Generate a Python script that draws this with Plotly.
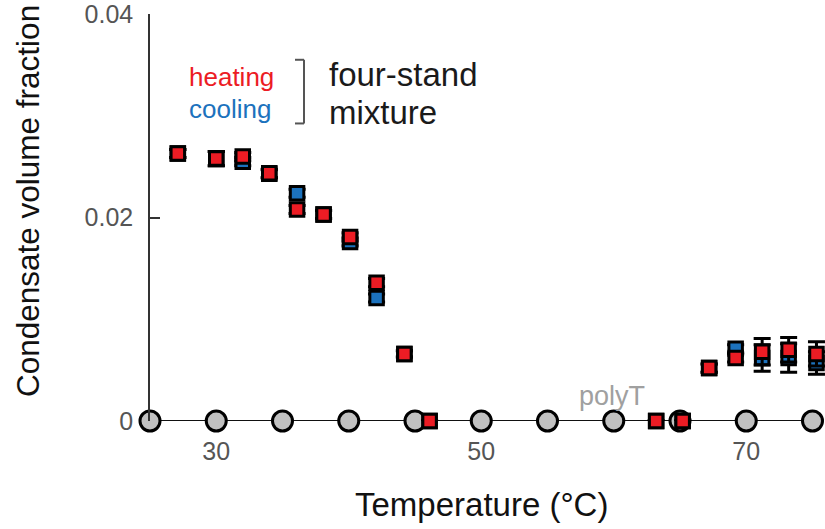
import plotly.graph_objects as go

# ---- data ----
heat_T = [27.1, 30.0, 32.0, 34.0, 36.1, 38.1, 40.1, 42.1, 44.2, 46.1, 63.2, 65.2, 67.2, 69.2, 71.2, 73.2, 75.3]
heat_V = [0.0263, 0.0258, 0.0260, 0.02435, 0.0208, 0.0203, 0.0181, 0.0136, 0.0066, 0.0, 0.0, 0.0, 0.0052, 0.0062, 0.0068, 0.0070, 0.0066]
heat_E = [0.0004, 0.0007, 0.0004, 0.0004, 0.0004, 0.0004, 0.0004, 0.0004, 0.0003, 0.0, 0.0, 0.0, 0.0004, 0.0004, 0.0013, 0.0012, 0.0012]

cool_T = [27.1, 30.0, 32.0, 34.0, 36.1, 38.1, 40.1, 42.1, 44.2, 46.1, 63.2, 65.2, 67.2, 69.2, 71.2, 73.2, 75.3]
cool_V = [0.0263, 0.0258, 0.0255, 0.0243, 0.0224, 0.0203, 0.0176, 0.0121, 0.0066, 0.0, 0.0, 0.0, 0.0052, 0.0071, 0.0062, 0.0062, 0.0057]
cool_E = [0.0004, 0.0007, 0.0004, 0.0004, 0.0004, 0.0004, 0.0004, 0.0004, 0.0003, 0.0, 0.0, 0.0, 0.0004, 0.0004, 0.0013, 0.0014, 0.0011]

poly_T = [25, 30, 35, 40, 45, 50, 55, 60, 65, 70, 75]
poly_V = [0, 0, 0, 0, 0, 0, 0, 0, 0, 0, 0]

x_ticks = [30, 50, 70]
y_ticks = [0, 0.02, 0.04]
y_ticktext = ["0", "0.02", "0.04"]

RED = "#ec1c24"
BLUE = "#1c72bd"
FONT = "Liberation Sans, Arial, Helvetica, sans-serif"

# plot area in pixels
L, T, W, H = 150, 12, 675, 409
YTOP = 0.04 * 1.0005


def px(xp):
    return (xp - L) / W


def py(yp):
    return (T + H - yp) / H


fig = go.Figure()

fig.add_trace(go.Scatter(
    x=poly_T, y=poly_V, mode="lines+markers",
    line=dict(color="#111111", width=2),
    marker=dict(symbol="circle", size=20, color="#c1c1c1",
                line=dict(color="#000000", width=3)),
    cliponaxis=False, showlegend=False, hoverinfo="skip"))

for xs, ys, es, col in [(cool_T, cool_V, cool_E, BLUE), (heat_T, heat_V, heat_E, RED)]:
    fig.add_trace(go.Scatter(
        x=xs, y=ys, mode="markers",
        error_y=dict(type="data", array=es, visible=True,
                     color="#000000", thickness=3, width=8.5),
        marker=dict(symbol="square", size=13.5, color=col,
                    line=dict(color="#000000", width=3)),
        cliponaxis=False, showlegend=False))

annotations = [
    dict(text="Condensate volume fraction", x=px(28), y=py(200), textangle=-90,
         font=dict(size=31.5, color="#111111", family=FONT)),
    dict(text="Temperature (°C)", x=px(481), y=py(505),
         font=dict(size=33, color="#111111", family=FONT)),
    dict(text="polyT", x=px(577), y=py(396), xanchor="left",
         font=dict(size=27, color="#a0a0a0", family=FONT)),
    dict(text="heating", x=px(187), y=py(75), xanchor="left",
         font=dict(size=26, color=RED, family=FONT)),
    dict(text="cooling", x=px(187), y=py(107), xanchor="left",
         font=dict(size=26, color=BLUE, family=FONT)),
    dict(text="four-stand", x=px(327), y=py(73), xanchor="left",
         font=dict(size=33, color="#1a1a1a", family=FONT)),
    dict(text="mixture", x=px(327), y=py(111), xanchor="left",
         font=dict(size=33, color="#1a1a1a", family=FONT)),
]
for a in annotations:
    a.update(xref="paper", yref="paper", showarrow=False)
    a.setdefault("xanchor", "center")
    a.setdefault("yanchor", "middle")

bracket_col = "#555555"
shapes = [
    dict(type="line", x0=px(304), x1=px(304), y0=py(58), y1=py(122)),
    dict(type="line", x0=px(295), x1=px(304), y0=py(58), y1=py(58)),
    dict(type="line", x0=px(295), x1=px(304), y0=py(122), y1=py(122)),
]
for s in shapes:
    s.update(xref="paper", yref="paper", line=dict(color=bracket_col, width=2))

fig.update_layout(
    width=825, height=529,
    margin=dict(l=L, r=825 - L - W, t=T, b=529 - T - H, pad=0),
    paper_bgcolor="white", plot_bgcolor="white",
    font=dict(family=FONT),
    annotations=annotations, shapes=shapes,
    xaxis=dict(range=[25, 25 + W / 13.25], tickvals=x_ticks,
               ticks="", showline=False, showgrid=False, zeroline=False,
               tickfont=dict(size=25, color="#555555"),
               ticklabelstandoff=13),
    yaxis=dict(range=[0, YTOP], tickvals=y_ticks, ticktext=y_ticktext,
               ticks="inside", ticklen=10, tickwidth=1.5, tickcolor="#333333",
               showline=True, linecolor="#333333", linewidth=1.5,
               showgrid=False, zeroline=False,
               ticklabeloverflow="allow",
               tickfont=dict(size=25, color="#555555"),
               ticklabelstandoff=10),
)

fig.write_html("out.html")
